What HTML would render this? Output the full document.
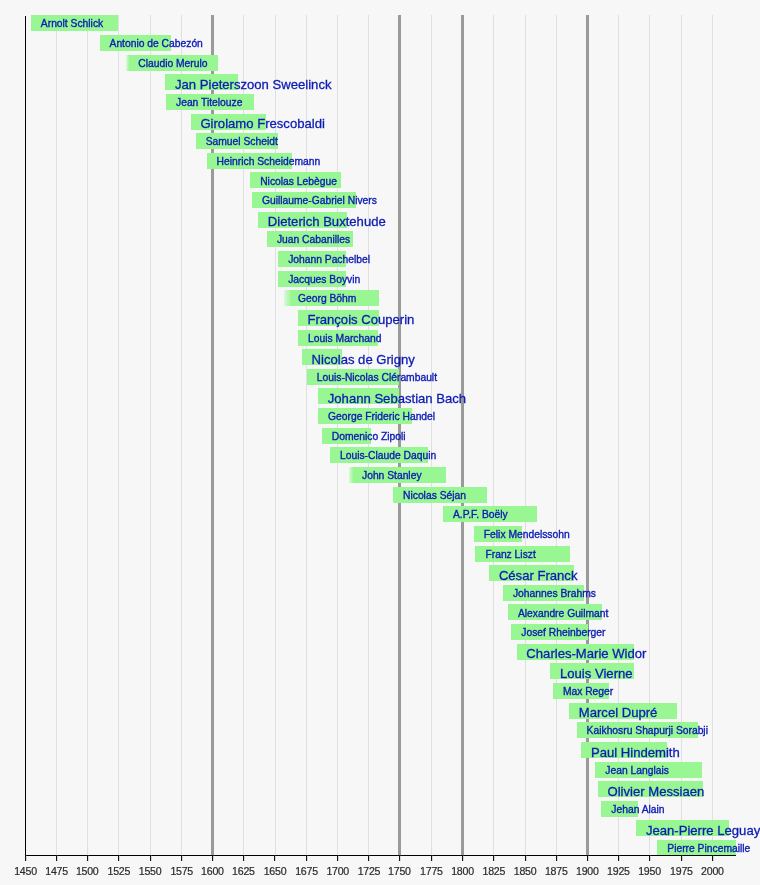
<!DOCTYPE html>
<html><head><meta charset="utf-8"><title>Timeline of organ composers</title>
<style>
html,body{margin:0;padding:0;}
#w{position:absolute;left:0;top:0;width:760px;height:885px;filter:blur(0.4px);}
body{width:760px;height:885px;background:#f7f7f7;position:relative;overflow:hidden;font-family:"Liberation Sans",Arial,sans-serif;}
.g{position:absolute;top:15px;height:840px;width:1px;background:#e0e0e0;}
.G{position:absolute;top:15px;height:840px;width:2.5px;background:#9a9a9a;}
.b{position:absolute;height:16px;background:#98f792;}
.t,.T{position:absolute;white-space:nowrap;color:#0c1cb4;line-height:0;}
.t{-webkit-text-stroke:0.35px #0c1cb4;}
.T{-webkit-text-stroke:0.3px #0c1cb4;}
.t{font-size:10.3px;}
.T{font-size:13.1px;}
.t::before,.T::before{content:"";}
.ax{position:absolute;left:25px;top:854.5px;width:711px;height:1.5px;background:#000;}
.ay{position:absolute;left:24.75px;top:16px;width:1.5px;height:839px;background:#000;}
.tk{position:absolute;top:855px;width:1px;height:5.8px;background:#111;box-shadow:0.3px 0 0 #888;}
.lb{position:absolute;top:864.5px;width:40px;text-align:center;font-size:10.6px;color:#2a2a2a;letter-spacing:-0.25px;-webkit-text-stroke:0.2px #2a2a2a;}
</style></head>
<body><div id="w">
<div class="g" style="left:56.10px"></div>
<div class="g" style="left:86.70px"></div>
<div class="g" style="left:118.30px"></div>
<div class="g" style="left:149.60px"></div>
<div class="g" style="left:181.20px"></div>
<div class="g" style="left:242.90px"></div>
<div class="g" style="left:274.50px"></div>
<div class="g" style="left:306.00px"></div>
<div class="g" style="left:337.22px"></div>
<div class="g" style="left:368.45px"></div>
<div class="g" style="left:430.90px"></div>
<div class="g" style="left:493.34px"></div>
<div class="g" style="left:524.56px"></div>
<div class="g" style="left:555.78px"></div>
<div class="g" style="left:617.90px"></div>
<div class="g" style="left:649.00px"></div>
<div class="g" style="left:680.90px"></div>
<div class="g" style="left:711.90px"></div>
<div class="G" style="left:211.15px"></div>
<div class="G" style="left:398.15px"></div>
<div class="G" style="left:461.25px"></div>
<div class="G" style="left:586.05px"></div>
<div class="b" style="left:30.84px;top:15.31px;width:87.06px"></div>
<div class="b" style="left:99.53px;top:34.95px;width:71.24px"></div>
<div class="b" style="left:125.50px;top:54.59px;width:92.73px;background:linear-gradient(to right,rgba(152,247,146,0.25) 0,#98f792 3.5px)"></div>
<div class="b" style="left:165.30px;top:74.22px;width:73.10px"></div>
<div class="b" style="left:166.00px;top:93.86px;width:88.45px"></div>
<div class="b" style="left:190.70px;top:113.50px;width:75.10px"></div>
<div class="b" style="left:195.70px;top:133.14px;width:82.70px"></div>
<div class="b" style="left:206.60px;top:152.78px;width:85.32px"></div>
<div class="b" style="left:250.20px;top:172.41px;width:90.42px"></div>
<div class="b" style="left:251.90px;top:192.05px;width:103.71px"></div>
<div class="b" style="left:258.14px;top:211.69px;width:88.72px"></div>
<div class="b" style="left:266.89px;top:231.33px;width:86.23px"></div>
<div class="b" style="left:278.13px;top:250.97px;width:67.49px"></div>
<div class="b" style="left:278.13px;top:270.60px;width:67.49px"></div>
<div class="b" style="left:283.50px;top:290.24px;width:95.84px;background:linear-gradient(to right,rgba(152,247,146,0.25) 0,#98f792 7.5px)"></div>
<div class="b" style="left:297.70px;top:309.88px;width:81.64px"></div>
<div class="b" style="left:298.11px;top:329.52px;width:79.98px"></div>
<div class="b" style="left:301.86px;top:349.16px;width:40.02px"></div>
<div class="b" style="left:306.85px;top:368.79px;width:92.47px"></div>
<div class="b" style="left:318.09px;top:388.43px;width:81.41px"></div>
<div class="b" style="left:318.09px;top:408.07px;width:93.72px"></div>
<div class="b" style="left:321.84px;top:427.71px;width:48.76px"></div>
<div class="b" style="left:330.00px;top:447.35px;width:98.05px"></div>
<div class="b" style="left:349.00px;top:466.98px;width:96.53px;background:linear-gradient(to right,rgba(152,247,146,0.25) 0,#98f792 4.5px)"></div>
<div class="b" style="left:393.03px;top:486.62px;width:93.72px"></div>
<div class="b" style="left:442.98px;top:506.26px;width:93.82px"></div>
<div class="b" style="left:473.80px;top:525.90px;width:47.91px"></div>
<div class="b" style="left:475.45px;top:545.54px;width:94.97px"></div>
<div class="b" style="left:489.19px;top:565.17px;width:85.01px"></div>
<div class="b" style="left:502.93px;top:584.81px;width:81.23px"></div>
<div class="b" style="left:507.92px;top:604.45px;width:93.72px"></div>
<div class="b" style="left:511.30px;top:624.09px;width:76.70px"></div>
<div class="b" style="left:516.67px;top:643.73px;width:117.45px"></div>
<div class="b" style="left:550.30px;top:663.36px;width:83.81px"></div>
<div class="b" style="left:552.88px;top:683.00px;width:56.12px"></div>
<div class="b" style="left:569.12px;top:702.64px;width:107.46px"></div>
<div class="b" style="left:576.61px;top:722.28px;width:121.19px"></div>
<div class="b" style="left:581.30px;top:741.92px;width:85.29px"></div>
<div class="b" style="left:595.35px;top:761.55px;width:106.21px"></div>
<div class="b" style="left:597.80px;top:781.19px;width:105.00px"></div>
<div class="b" style="left:601.30px;top:800.83px;width:36.56px"></div>
<div class="b" style="left:636.25px;top:820.47px;width:92.95px"></div>
<div class="b" style="left:657.30px;top:840.11px;width:78.60px"></div>
<div class="t" style="left:40.84px;top:24.41px">Arnolt Schlick</div>
<div class="t" style="left:109.53px;top:44.05px">Antonio de Cabezón</div>
<div class="t" style="left:138.26px;top:63.69px">Claudio Merulo</div>
<div class="T" style="left:175.00px;top:84.82px">Jan Pieterszoon Sweelinck</div>
<div class="t" style="left:176.00px;top:102.96px">Jean Titelouze</div>
<div class="T" style="left:200.40px;top:124.10px">Girolamo Frescobaldi</div>
<div class="t" style="left:205.70px;top:142.24px">Samuel Scheidt</div>
<div class="t" style="left:216.60px;top:161.88px">Heinrich Scheidemann</div>
<div class="t" style="left:260.20px;top:181.51px">Nicolas Lebègue</div>
<div class="t" style="left:261.90px;top:201.15px">Guillaume-Gabriel Nivers</div>
<div class="T" style="left:267.84px;top:222.29px">Dieterich Buxtehude</div>
<div class="t" style="left:276.89px;top:240.43px">Juan Cabanilles</div>
<div class="t" style="left:288.13px;top:260.07px">Johann Pachelbel</div>
<div class="t" style="left:288.13px;top:279.70px">Jacques Boyvin</div>
<div class="t" style="left:298.00px;top:299.34px">Georg Böhm</div>
<div class="T" style="left:307.40px;top:320.48px">François Couperin</div>
<div class="t" style="left:308.11px;top:338.62px">Louis Marchand</div>
<div class="T" style="left:311.56px;top:359.76px">Nicolas de Grigny</div>
<div class="t" style="left:316.85px;top:377.89px">Louis-Nicolas Clérambault</div>
<div class="T" style="left:327.79px;top:399.03px">Johann Sebastian Bach</div>
<div class="t" style="left:328.09px;top:417.17px">George Frideric Handel</div>
<div class="t" style="left:331.84px;top:436.81px">Domenico Zipoli</div>
<div class="t" style="left:340.00px;top:456.45px">Louis-Claude Daquin</div>
<div class="t" style="left:362.00px;top:476.08px">John Stanley</div>
<div class="t" style="left:403.03px;top:495.72px">Nicolas Séjan</div>
<div class="t" style="left:452.98px;top:515.36px">A.P.F. Boëly</div>
<div class="t" style="left:483.80px;top:535.00px">Felix Mendelssohn</div>
<div class="t" style="left:485.45px;top:554.64px">Franz Liszt</div>
<div class="T" style="left:498.89px;top:575.77px">César Franck</div>
<div class="t" style="left:512.93px;top:593.91px">Johannes Brahms</div>
<div class="t" style="left:517.92px;top:613.55px">Alexandre Guilmant</div>
<div class="t" style="left:521.30px;top:633.19px">Josef Rheinberger</div>
<div class="T" style="left:526.37px;top:654.33px">Charles-Marie Widor</div>
<div class="T" style="left:560.00px;top:673.96px">Louis Vierne</div>
<div class="t" style="left:562.88px;top:692.10px">Max Reger</div>
<div class="T" style="left:578.82px;top:713.24px">Marcel Dupré</div>
<div class="t" style="left:586.61px;top:731.38px">Kaikhosru Shapurji Sorabji</div>
<div class="T" style="left:591.00px;top:752.52px">Paul Hindemith</div>
<div class="t" style="left:605.35px;top:770.65px">Jean Langlais</div>
<div class="T" style="left:607.50px;top:791.79px">Olivier Messiaen</div>
<div class="t" style="left:611.30px;top:809.93px">Jehan Alain</div>
<div class="T" style="left:645.95px;top:831.07px">Jean-Pierre Leguay</div>
<div class="t" style="left:667.30px;top:849.21px">Pierre Pincemaille</div>
<div class="ax"></div><div class="ay"></div>
<div class="tk" style="left:25px"></div>
<div class="lb" style="left:5.50px">1450</div>
<div class="tk" style="left:56px"></div>
<div class="lb" style="left:36.60px">1475</div>
<div class="tk" style="left:87px"></div>
<div class="lb" style="left:67.20px">1500</div>
<div class="tk" style="left:118px"></div>
<div class="lb" style="left:98.80px">1525</div>
<div class="tk" style="left:150px"></div>
<div class="lb" style="left:130.10px">1550</div>
<div class="tk" style="left:181px"></div>
<div class="lb" style="left:161.70px">1575</div>
<div class="tk" style="left:212px"></div>
<div class="lb" style="left:192.40px">1600</div>
<div class="tk" style="left:243px"></div>
<div class="lb" style="left:223.40px">1625</div>
<div class="tk" style="left:274px"></div>
<div class="lb" style="left:255.00px">1650</div>
<div class="tk" style="left:306px"></div>
<div class="lb" style="left:286.50px">1675</div>
<div class="tk" style="left:337px"></div>
<div class="lb" style="left:317.72px">1700</div>
<div class="tk" style="left:368px"></div>
<div class="lb" style="left:348.95px">1725</div>
<div class="tk" style="left:399px"></div>
<div class="lb" style="left:379.40px">1750</div>
<div class="tk" style="left:431px"></div>
<div class="lb" style="left:411.40px">1775</div>
<div class="tk" style="left:462px"></div>
<div class="lb" style="left:442.50px">1800</div>
<div class="tk" style="left:493px"></div>
<div class="lb" style="left:473.84px">1825</div>
<div class="tk" style="left:525px"></div>
<div class="lb" style="left:505.06px">1850</div>
<div class="tk" style="left:556px"></div>
<div class="lb" style="left:536.28px">1875</div>
<div class="tk" style="left:587px"></div>
<div class="lb" style="left:567.30px">1900</div>
<div class="tk" style="left:618px"></div>
<div class="lb" style="left:598.40px">1925</div>
<div class="tk" style="left:649px"></div>
<div class="lb" style="left:629.50px">1950</div>
<div class="tk" style="left:681px"></div>
<div class="lb" style="left:661.40px">1975</div>
<div class="tk" style="left:712px"></div>
<div class="lb" style="left:692.40px">2000</div>
</div></body></html>
